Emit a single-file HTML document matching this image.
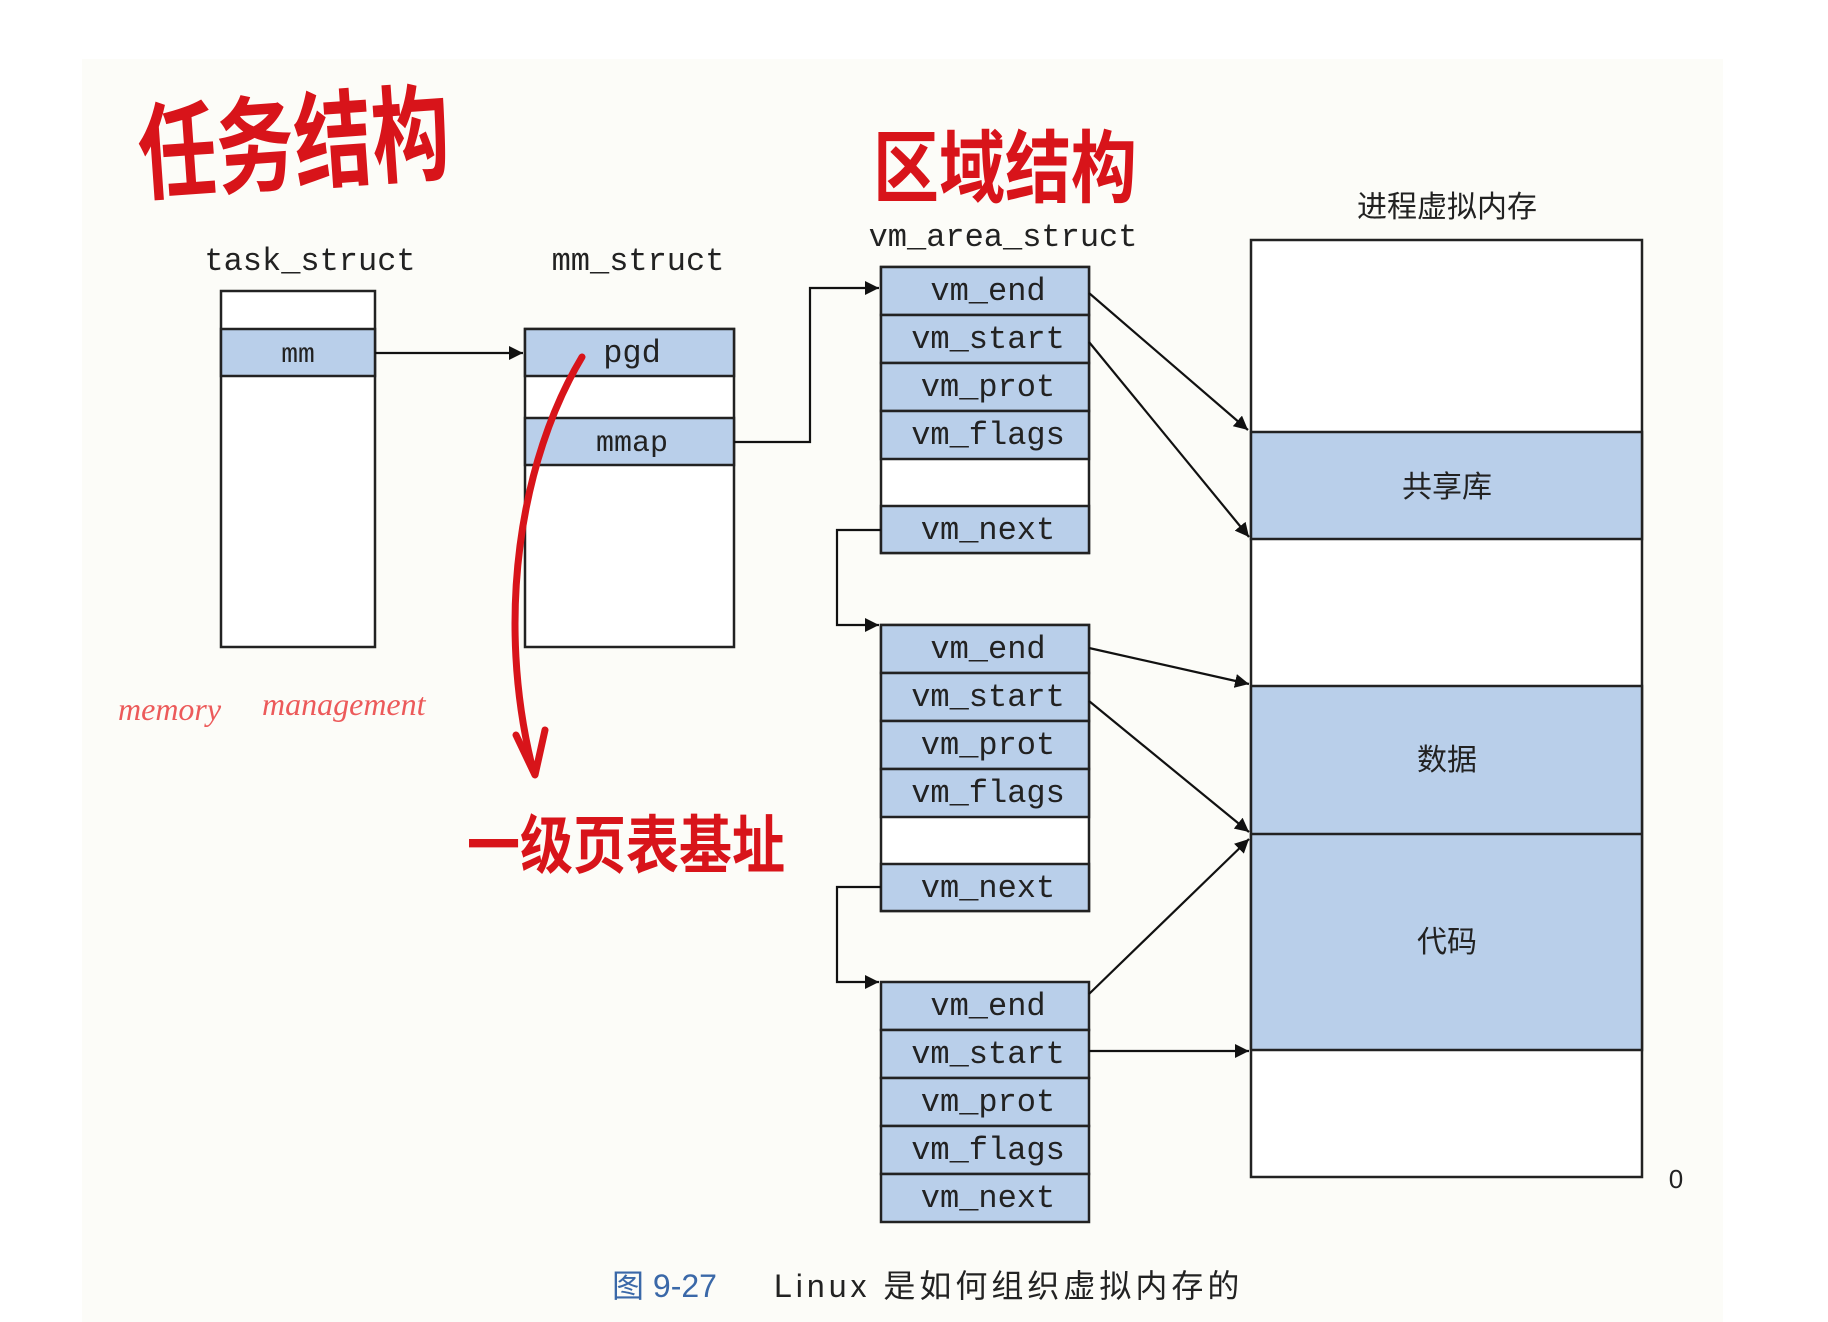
<!DOCTYPE html>
<html><head><meta charset="utf-8"><style>
html,body{margin:0;padding:0;background:#fff}
svg{display:block}
.m{font-family:"Liberation Mono",monospace;font-size:32px;fill:#222}
.c{font-family:"Liberation Sans","Noto Sans CJK SC",sans-serif;fill:#222}
.r{font-family:"Liberation Sans","Noto Sans CJK SC",sans-serif;fill:#d8141a;font-weight:bold}
</style></head><body>
<svg width="1828" height="1322" viewBox="0 0 1828 1322" xmlns="http://www.w3.org/2000/svg">
<defs>
<marker id="b" viewBox="0 0 10 10" refX="10" refY="5" markerWidth="14" markerHeight="14" orient="auto" markerUnits="userSpaceOnUse"><path d="M0,0L10,5L0,10z" fill="#111"/></marker>
</defs>
<rect x="82" y="59" width="1641" height="1263" fill="#fcfcf8"/>
<g stroke="#222" stroke-width="2.5" fill="#fff">
<rect x="221" y="291" width="154" height="356"/>
<rect x="221" y="329" width="154" height="47" fill="#b9cfea"/>
<rect x="525" y="329" width="209" height="318"/>
<rect x="525" y="329" width="209" height="47" fill="#b9cfea"/>
<rect x="525" y="418" width="209" height="47" fill="#b9cfea"/>
<rect x="1251" y="240" width="391" height="937"/>
<rect x="1251" y="432" width="391" height="107" fill="#b9cfea"/>
<rect x="1251" y="686" width="391" height="364" fill="#b9cfea"/>
<line x1="1251" y1="834" x2="1642" y2="834"/>
<rect x="881" y="267" width="208" height="286"/>
<rect x="881" y="267" width="208" height="48" fill="#b9cfea"/>
<rect x="881" y="315" width="208" height="48" fill="#b9cfea"/>
<rect x="881" y="363" width="208" height="48" fill="#b9cfea"/>
<rect x="881" y="411" width="208" height="48" fill="#b9cfea"/>
<rect x="881" y="506" width="208" height="47" fill="#b9cfea"/>
<rect x="881" y="625" width="208" height="286"/>
<rect x="881" y="625" width="208" height="48" fill="#b9cfea"/>
<rect x="881" y="673" width="208" height="48" fill="#b9cfea"/>
<rect x="881" y="721" width="208" height="48" fill="#b9cfea"/>
<rect x="881" y="769" width="208" height="48" fill="#b9cfea"/>
<rect x="881" y="864" width="208" height="47" fill="#b9cfea"/>
<rect x="881" y="982" width="208" height="48" fill="#b9cfea"/>
<rect x="881" y="1030" width="208" height="48" fill="#b9cfea"/>
<rect x="881" y="1078" width="208" height="48" fill="#b9cfea"/>
<rect x="881" y="1126" width="208" height="48" fill="#b9cfea"/>
<rect x="881" y="1174" width="208" height="48" fill="#b9cfea"/>
</g>
<g stroke="#111" stroke-width="2.2" fill="none" marker-end="url(#b)">
<line x1="375" y1="353" x2="523" y2="353"/>
<polyline points="734,442 810,442 810,288 879,288"/>
<polyline points="881,530 837,530 837,625 879,625"/>
<polyline points="881,887 837,887 837,982 879,982"/>
<line x1="1089" y1="293" x2="1248" y2="430"/>
<line x1="1089" y1="342" x2="1249" y2="537"/>
<line x1="1089" y1="648" x2="1249" y2="684"/>
<line x1="1089" y1="701" x2="1249" y2="832"/>
<line x1="1089" y1="994" x2="1249" y2="839"/>
<line x1="1089" y1="1051" x2="1249" y2="1051"/>
</g>
<g class="m" text-anchor="middle">
<text x="310" y="270">task_struct</text>
<text x="638" y="270">mm_struct</text>
<text x="1003" y="246">vm_area_struct</text>
<text x="298" y="362" font-size="28">mm</text>
<text x="632" y="362">pgd</text>
<text x="632" y="451" font-size="30">mmap</text>
<text x="988" y="300">vm_end</text><text x="988" y="348">vm_start</text><text x="988" y="396">vm_prot</text><text x="988" y="444">vm_flags</text><text x="988" y="539">vm_next</text>
<text x="988" y="658">vm_end</text><text x="988" y="706">vm_start</text><text x="988" y="754">vm_prot</text><text x="988" y="802">vm_flags</text><text x="988" y="897">vm_next</text>
<text x="988" y="1015">vm_end</text><text x="988" y="1063">vm_start</text><text x="988" y="1111">vm_prot</text><text x="988" y="1159">vm_flags</text><text x="988" y="1207">vm_next</text>
</g>
<g class="c" text-anchor="middle" font-size="30">
<text x="1447" y="217">进程虚拟内存</text>
<text x="1447" y="497">共享库</text>
<text x="1447" y="770">数据</text>
<text x="1447" y="952">代码</text>
<text x="1676" y="1188" font-size="26">0</text>
</g>
<text x="612" y="1297" class="c" font-size="32" style="fill:#3a68a8">图 9-27</text>
<text x="774" y="1297" class="c" font-size="32" letter-spacing="4">Linux 是如何组织虚拟内存的</text>
<text x="0" y="0" class="r" font-size="78" transform="translate(141,192) rotate(-4) scale(1,1.35)">任务结构</text>
<text x="0" y="0" class="r" font-size="66" transform="translate(873,196) scale(1,1.2)">区域结构</text>
<text x="118" y="720" font-size="32" font-style="italic" style="font-family:'Liberation Serif',serif;fill:#ec5a5a">memory</text>
<text x="262" y="715" font-size="32" font-style="italic" style="font-family:'Liberation Serif',serif;fill:#ec5a5a">management</text>
<text x="0" y="0" class="r" font-size="53" transform="translate(467,868) scale(1,1.2)">一级页表基址</text>
<path d="M582,357 C520,460 495,620 533,770" stroke="#d8141a" stroke-width="7" fill="none" stroke-linecap="round"/>
<path d="M516,735 L535,775 L545,730" stroke="#d8141a" stroke-width="7" fill="none" stroke-linecap="round" stroke-linejoin="round"/>
</svg>
</body></html>
